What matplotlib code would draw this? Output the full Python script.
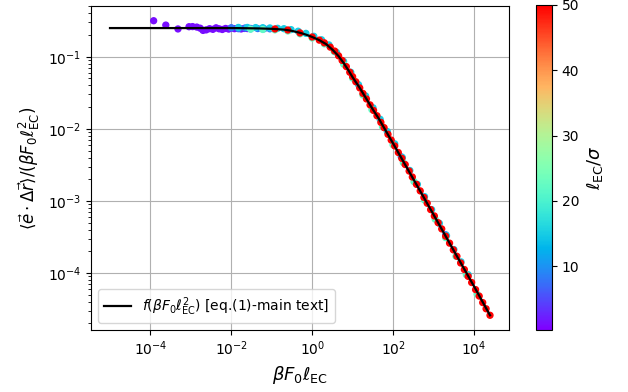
import numpy as np
import matplotlib
matplotlib.use("Agg")
import matplotlib.pyplot as plt

# theory curve f(beta F0 l_EC)
curve_x = [1e-5, 1e-3, 1e-2, 0.02, 0.05, 0.1, 0.2, 0.3, 0.5, 0.7, 1.0, 1.5, 2.2, 3.2,
           4.5, 6.0, 8.0, 10, 15, 22, 30, 45, 70, 100, 300, 1000, 3000, 1e4, 2.5e4]
curve_y = [0.25, 0.25, 0.25, 0.249, 0.247, 0.244, 0.238, 0.23, 0.215, 0.203, 0.188,
           0.17, 0.15, 0.125, 0.102, 0.082, 0.064, 0.052, 0.037, 0.026, 0.0195, 0.0137,
           0.0089, 0.0063, 0.00213, 6.5e-4, 2.17e-4, 6.6e-5, 2.6e-5]

# simulation points, grouped by l_EC / sigma
ell_purple = 1
x_purple = [1.2e-4, 2.4e-4, 4.8e-4, 9e-4, 1.1e-3, 1.4e-3, 1.7e-3, 2.0e-3, 2.4e-3, 2.9e-3,
            3.5e-3, 4.2e-3, 5e-3, 6e-3, 7.2e-3, 8.6e-3, 1.0e-2, 1.2e-2, 1.45e-2, 1.75e-2,
            2.1e-2, 2.5e-2, 3.0e-2]
y_purple = [0.316, 0.275, 0.243, 0.261, 0.262, 0.258, 0.249, 0.232, 0.236, 0.245,
            0.24, 0.252, 0.244, 0.239, 0.247, 0.242, 0.25, 0.245, 0.248, 0.243,
            0.247, 0.246, 0.245]

ell_blue = 8
x_blue = [0.01, 0.015, 0.022, 0.03, 0.045, 0.065, 0.09, 160, 2000]
y_blue = [0.252, 0.245, 0.25, 0.247, 0.246, 0.245, 0.244, 0.0041, 0.00034]

ell_cyan = 15
x_cyan = [0.015, 0.025, 0.04, 0.06, 0.09, 0.14, 0.2, 0.3, 0.45, 0.7, 1.1, 1.7, 2.6, 4, 6,
          9, 14, 21, 32, 48, 72, 110, 170, 260, 400, 600, 900, 1400, 2100, 3200, 4800, 7200]
y_cyan = [0.255, 0.255, 0.254, 0.253, 0.251, 0.248, 0.245, 0.238, 0.226, 0.211, 0.192,
          0.172, 0.146, 0.115, 0.086, 0.061, 0.041, 0.0286, 0.0196, 0.0136, 0.0092,
          0.0062, 0.004, 0.00265, 0.0017, 0.00115, 0.00076, 0.00049, 0.00033, 0.000212,
          0.000143, 0.000095]

ell_green = 22
x_green = [0.03, 0.06, 0.12, 0.25, 0.5, 1, 2, 3.5, 6, 10, 18, 30, 55, 100, 180, 330, 600,
           1100, 2000, 3600, 6500, 1.2e4]
y_green = [0.241, 0.239, 0.236, 0.228, 0.208, 0.182, 0.151, 0.118, 0.079, 0.0505, 0.0295,
           0.0185, 0.0107, 0.006, 0.0034, 0.00186, 0.00103, 0.00056, 0.00031, 0.000171,
           0.000095, 0.000051]

ell_red = 50
x_red = [0.12, 0.25, 0.5, 1.0, 1.5, 2.0, 2.8, 3.6, 4.5, 5.5, 7, 8.5, 10, 12, 15, 18, 22,
         27, 33, 40, 50, 60, 75, 90, 110, 135, 165, 200, 250, 300, 380, 470, 580, 700,
         850, 1050, 1300, 1600, 2000, 2500, 3100, 3800, 4700, 5800, 7200, 8800, 1.1e4,
         1.35e4, 1.65e4, 2.0e4, 2.5e4]
y_red = [0.243, 0.235, 0.214, 0.188, 0.17, 0.156, 0.136, 0.12, 0.103, 0.089, 0.073,
         0.061, 0.053, 0.045, 0.037, 0.031, 0.026, 0.0215, 0.018, 0.0152, 0.0123, 0.0104,
         0.0084, 0.007, 0.0058, 0.0047, 0.0039, 0.0032, 0.0026, 0.00215, 0.0017, 0.00138,
         0.00112, 0.00093, 0.00076, 0.00062, 0.0005, 0.00041, 0.000325, 0.00026, 0.00021,
         0.000171, 0.000138, 0.000112, 0.00009, 0.000074, 0.000059, 0.000048, 0.000039,
         0.000032, 0.000026]

groups = [(ell_purple, x_purple, y_purple), (ell_blue, x_blue, y_blue),
          (ell_cyan, x_cyan, y_cyan), (ell_green, x_green, y_green),
          (ell_red, x_red, y_red)]
xs = np.concatenate([g[1] for g in groups])
ys = np.concatenate([g[2] for g in groups])
cs = np.concatenate([[g[0]] * len(g[1]) for g in groups])

fig = plt.figure(figsize=(6.28, 3.92), dpi=100)
ax = fig.add_axes([91 / 628, 1 - 330 / 392, 418 / 628, 324 / 392])
cax = fig.add_axes([536 / 628, 1 - 330 / 392, 16 / 628, 325 / 392])

sc = ax.scatter(xs, ys, c=cs, cmap='rainbow', vmin=0.2, vmax=50, s=18, zorder=2)
ax.plot(curve_x, curve_y, color='black', lw=1.6, zorder=3,
        label=r'$f(\beta F_0\ell_{\rm EC}^2)$ [eq.(1)-main text]')
ax.set_xscale('log')
ax.set_yscale('log')
ax.grid(True, color='#b0b0b0', lw=0.8, zorder=0)
ax.set_axisbelow(True)
ax.set_xlabel(r'$\beta F_0\ell_{\rm EC}$', fontsize=13)
ax.set_ylabel(r'$\langle\vec{e}\cdot\Delta\vec{r}\rangle/(\beta F_0\ell_{\rm EC}^2)$', fontsize=12)
ax.legend(loc='lower left', fontsize=10)

cb = fig.colorbar(sc, cax=cax)
cb.set_label(r'$\ell_{\rm EC}/\sigma$', fontsize=13)

fig.savefig('out.png', dpi=100)
